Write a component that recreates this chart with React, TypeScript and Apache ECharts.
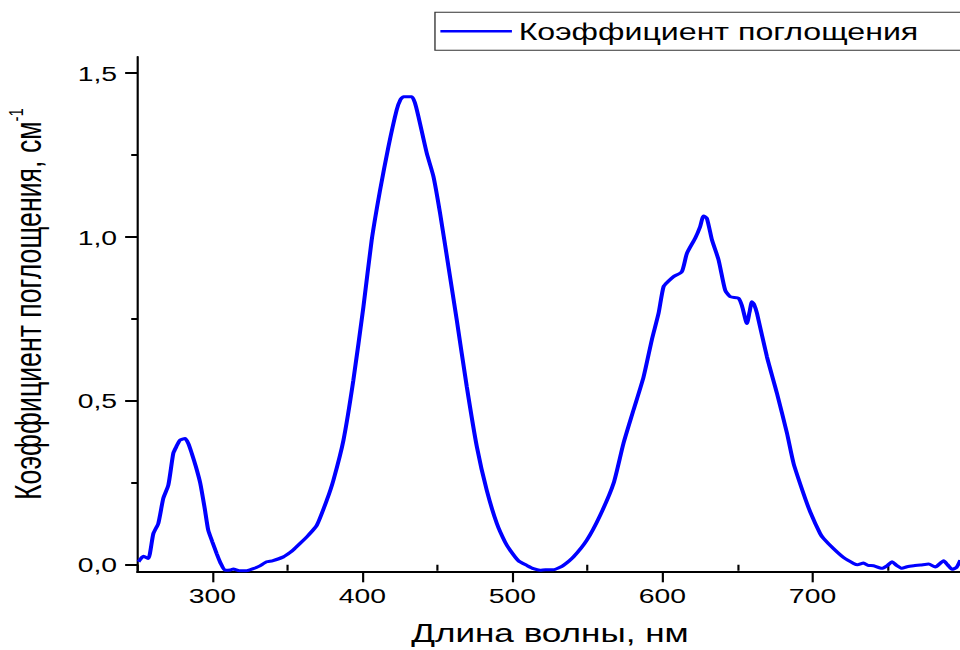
import React, { useEffect, useRef } from "react";
import * as echarts from "echarts";

// ---- data ----
const wavelengths = [
  250.8, 254.1, 257.3, 260.7, 264, 267.3, 270.7, 274, 276, 278.5, 281.8, 284, 286.3, 289, 292, 295, 297.3, 300,
  302.9, 305.5, 308.5, 312, 314, 318, 322.9, 327.3, 331, 336.3, 340, 347.4, 352, 355, 358.5, 364, 369.6, 376.3,
  380.7, 387.4, 394, 400.7, 406.2, 411.8, 417.4, 422.9, 425.5, 427.4, 432.9, 435, 437.4, 442.9, 447.4, 451.8,
  457.4, 462.9, 469.6, 476.3, 482.9, 489.6, 495, 498.5, 504, 509.6, 514, 518.5, 522, 527.3, 531, 534, 540.7,
  549.6, 558.5, 567.4, 574, 580.7, 587.4, 592.9, 597.4, 600.7, 604, 607.4, 612.9, 616.3, 621.8, 625, 627.4,
  629.6, 633, 637.4, 641.8, 645.1, 650.7, 653, 656.3, 658, 659.6, 661, 663, 669.6, 676.3, 683, 687.4, 694,
  698.5, 705.1, 707.4, 714, 720.7, 727.4, 730, 734, 737, 740.7, 746.2, 750, 753, 756, 759.6, 763, 767.4, 772,
  777.4, 781.8, 787.4, 790, 793, 796, 798.5,
];
const absorbance = [
  0.009, 0.026, 0.019, 0.095, 0.126, 0.202, 0.243, 0.34, 0.36, 0.38, 0.385, 0.37, 0.34, 0.3, 0.248, 0.17, 0.105,
  0.07, 0.034, 0.005, -0.017, -0.016, -0.013, -0.018, -0.018, -0.012, -0.005, 0.009, 0.012, 0.024, 0.038, 0.05,
  0.065, 0.09, 0.12, 0.197, 0.258, 0.38, 0.563, 0.787, 0.99, 1.143, 1.276, 1.388, 1.42, 1.428, 1.428, 1.41,
  1.367, 1.256, 1.184, 1.072, 0.909, 0.747, 0.543, 0.36, 0.227, 0.126, 0.07, 0.044, 0.012, -0.002, -0.012,
  -0.017, -0.015, -0.015, -0.009, -0.002, 0.024, 0.075, 0.151, 0.248, 0.37, 0.472, 0.573, 0.686, 0.767, 0.848,
  0.865, 0.879, 0.894, 0.95, 0.996, 1.03, 1.064, 1.057, 0.991, 0.93, 0.838, 0.818, 0.813, 0.79, 0.736, 0.77,
  0.802, 0.795, 0.767, 0.635, 0.523, 0.401, 0.309, 0.217, 0.161, 0.095, 0.08, 0.049, 0.022, 0.004, 0.0, 0.005,
  -0.002, -0.003, -0.011, -0.002, 0.009, -0.002, -0.011, -0.006, -0.003, -0.001, 0.002, -0.007, 0.012, 0.0,
  -0.014, -0.008, 0.014,
];
const xMajorTicks = [300, 400, 500, 600, 700];
const xMinorTicks = [250, 350, 450, 550, 650, 750];
const yMajorTicks = [0, 0.5, 1.0, 1.5];
const yMinorTicks = [0.25, 0.75, 1.25];
const seriesName = "Коэффициент поглощения";
const xTitle = "Длина волны, нм";
const yTitle = "Коэффициент поглощения, см";
const yTitleSup = "-1";

// ---- layout ----
const STRETCH = 1.35; // the reference is stretched horizontally
const CHART_W = 713;
const CHART_H = 650;
const FONT = "'Liberation Sans', Arial, sans-serif";

export default function App() {
  const ref = useRef<HTMLDivElement>(null);

  useEffect(() => {
    if (!ref.current) return;
    const chart = echarts.init(ref.current, null, { renderer: "svg" });
    const fmt = (v: number) => v.toFixed(1).replace(".", ",");
    const data = wavelengths.map((w, i) => [w, absorbance[i]]);

    chart.setOption({
      animation: false,
      backgroundColor: "#ffffff",
      textStyle: { fontFamily: FONT },
      grid: { left: 101.7, right: 0, top: 56.7, bottom: 78.7, containLabel: false, outerBoundsMode: "none" },
      legend: {
        show: true,
        left: 322.2,
        top: 12.3,
        orient: "horizontal",
        data: [seriesName],
        icon: "rect",
        itemWidth: 53,
        itemHeight: 2.6,
        borderColor: "#333333",
        borderWidth: 1,
        padding: [7, 60, 7, 4],
        textStyle: { fontSize: 23.8, color: "#000000", fontFamily: FONT },
      },
      xAxis: [
        {
          type: "value",
          min: 250,
          max: 800,
          position: "bottom",
          name: xTitle,
          nameLocation: "middle",
          nameGap: 49,
          nameTextStyle: { fontSize: 26, fontWeight: "normal", color: "#000000", fontFamily: FONT },
          axisLine: { show: true, onZero: false, lineStyle: { color: "#000000", width: 2 } },
          axisTick: { show: true, customValues: xMajorTicks, length: 11, lineStyle: { color: "#000000", width: 1.6 } },
          axisLabel: { show: true, customValues: xMajorTicks, fontSize: 21, color: "#000000", margin: 14, fontFamily: FONT },
          splitLine: { show: false },
        },
        {
          type: "value",
          min: 250,
          max: 800,
          position: "bottom",
          axisLine: { show: false },
          axisTick: { show: true, customValues: xMinorTicks, length: 6, lineStyle: { color: "#000000", width: 1.6 } },
          axisLabel: { show: false },
          splitLine: { show: false },
        },
      ],
      yAxis: [
        {
          type: "value",
          min: -0.02,
          max: 1.55,
          position: "left",
          axisLine: { show: true, onZero: false, lineStyle: { color: "#000000", width: 1.6 } },
          axisTick: { show: true, customValues: yMajorTicks, length: 9, lineStyle: { color: "#000000", width: 2 } },
          axisLabel: {
            show: true,
            customValues: yMajorTicks,
            formatter: fmt,
            fontSize: 21,
            color: "#000000",
            margin: 15,
            fontFamily: FONT,
          },
          splitLine: { show: false },
        },
        {
          type: "value",
          min: -0.02,
          max: 1.55,
          position: "left",
          axisLine: { show: false },
          axisTick: { show: true, customValues: yMinorTicks, length: 4.5, lineStyle: { color: "#000000", width: 2 } },
          axisLabel: { show: false },
          splitLine: { show: false },
        },
      ],
      graphic: [
        {
          type: "text",
          x: 19.3,
          y: 304,
          rotation: Math.PI / 2,
          style: {
            text: `{a|${yTitle}}{b|${yTitleSup}}`,
            align: "center",
            verticalAlign: "middle",
            fill: "#000000",
            rich: {
              a: { fontSize: 26.7, fontFamily: FONT, fill: "#000000", lineHeight: 30, verticalAlign: "bottom" },
              b: { fontSize: 15, fontFamily: FONT, fill: "#000000", lineHeight: 30, verticalAlign: "top" },
            },
          },
        },
      ],
      series: [
        {
          name: seriesName,
          type: "line",
          xAxisIndex: 0,
          yAxisIndex: 0,
          data,
          symbol: "none",
          showSymbol: false,
          smooth: 0.2,
          clip: true,
          lineStyle: { color: "#0000ff", width: 3 },
          itemStyle: { color: "#0000ff" },
        },
      ],
    });

    return () => chart.dispose();
  }, []);

  return (
    <div
      style={{
        position: "absolute",
        left: 0,
        top: 0,
        width: 960,
        height: 650,
        overflow: "hidden",
        background: "#ffffff",
      }}
    >
      <div
        ref={ref}
        style={{
          width: CHART_W,
          height: CHART_H,
          transform: `scaleX(${STRETCH})`,
          transformOrigin: "0 0",
        }}
      />
    </div>
  );
}
